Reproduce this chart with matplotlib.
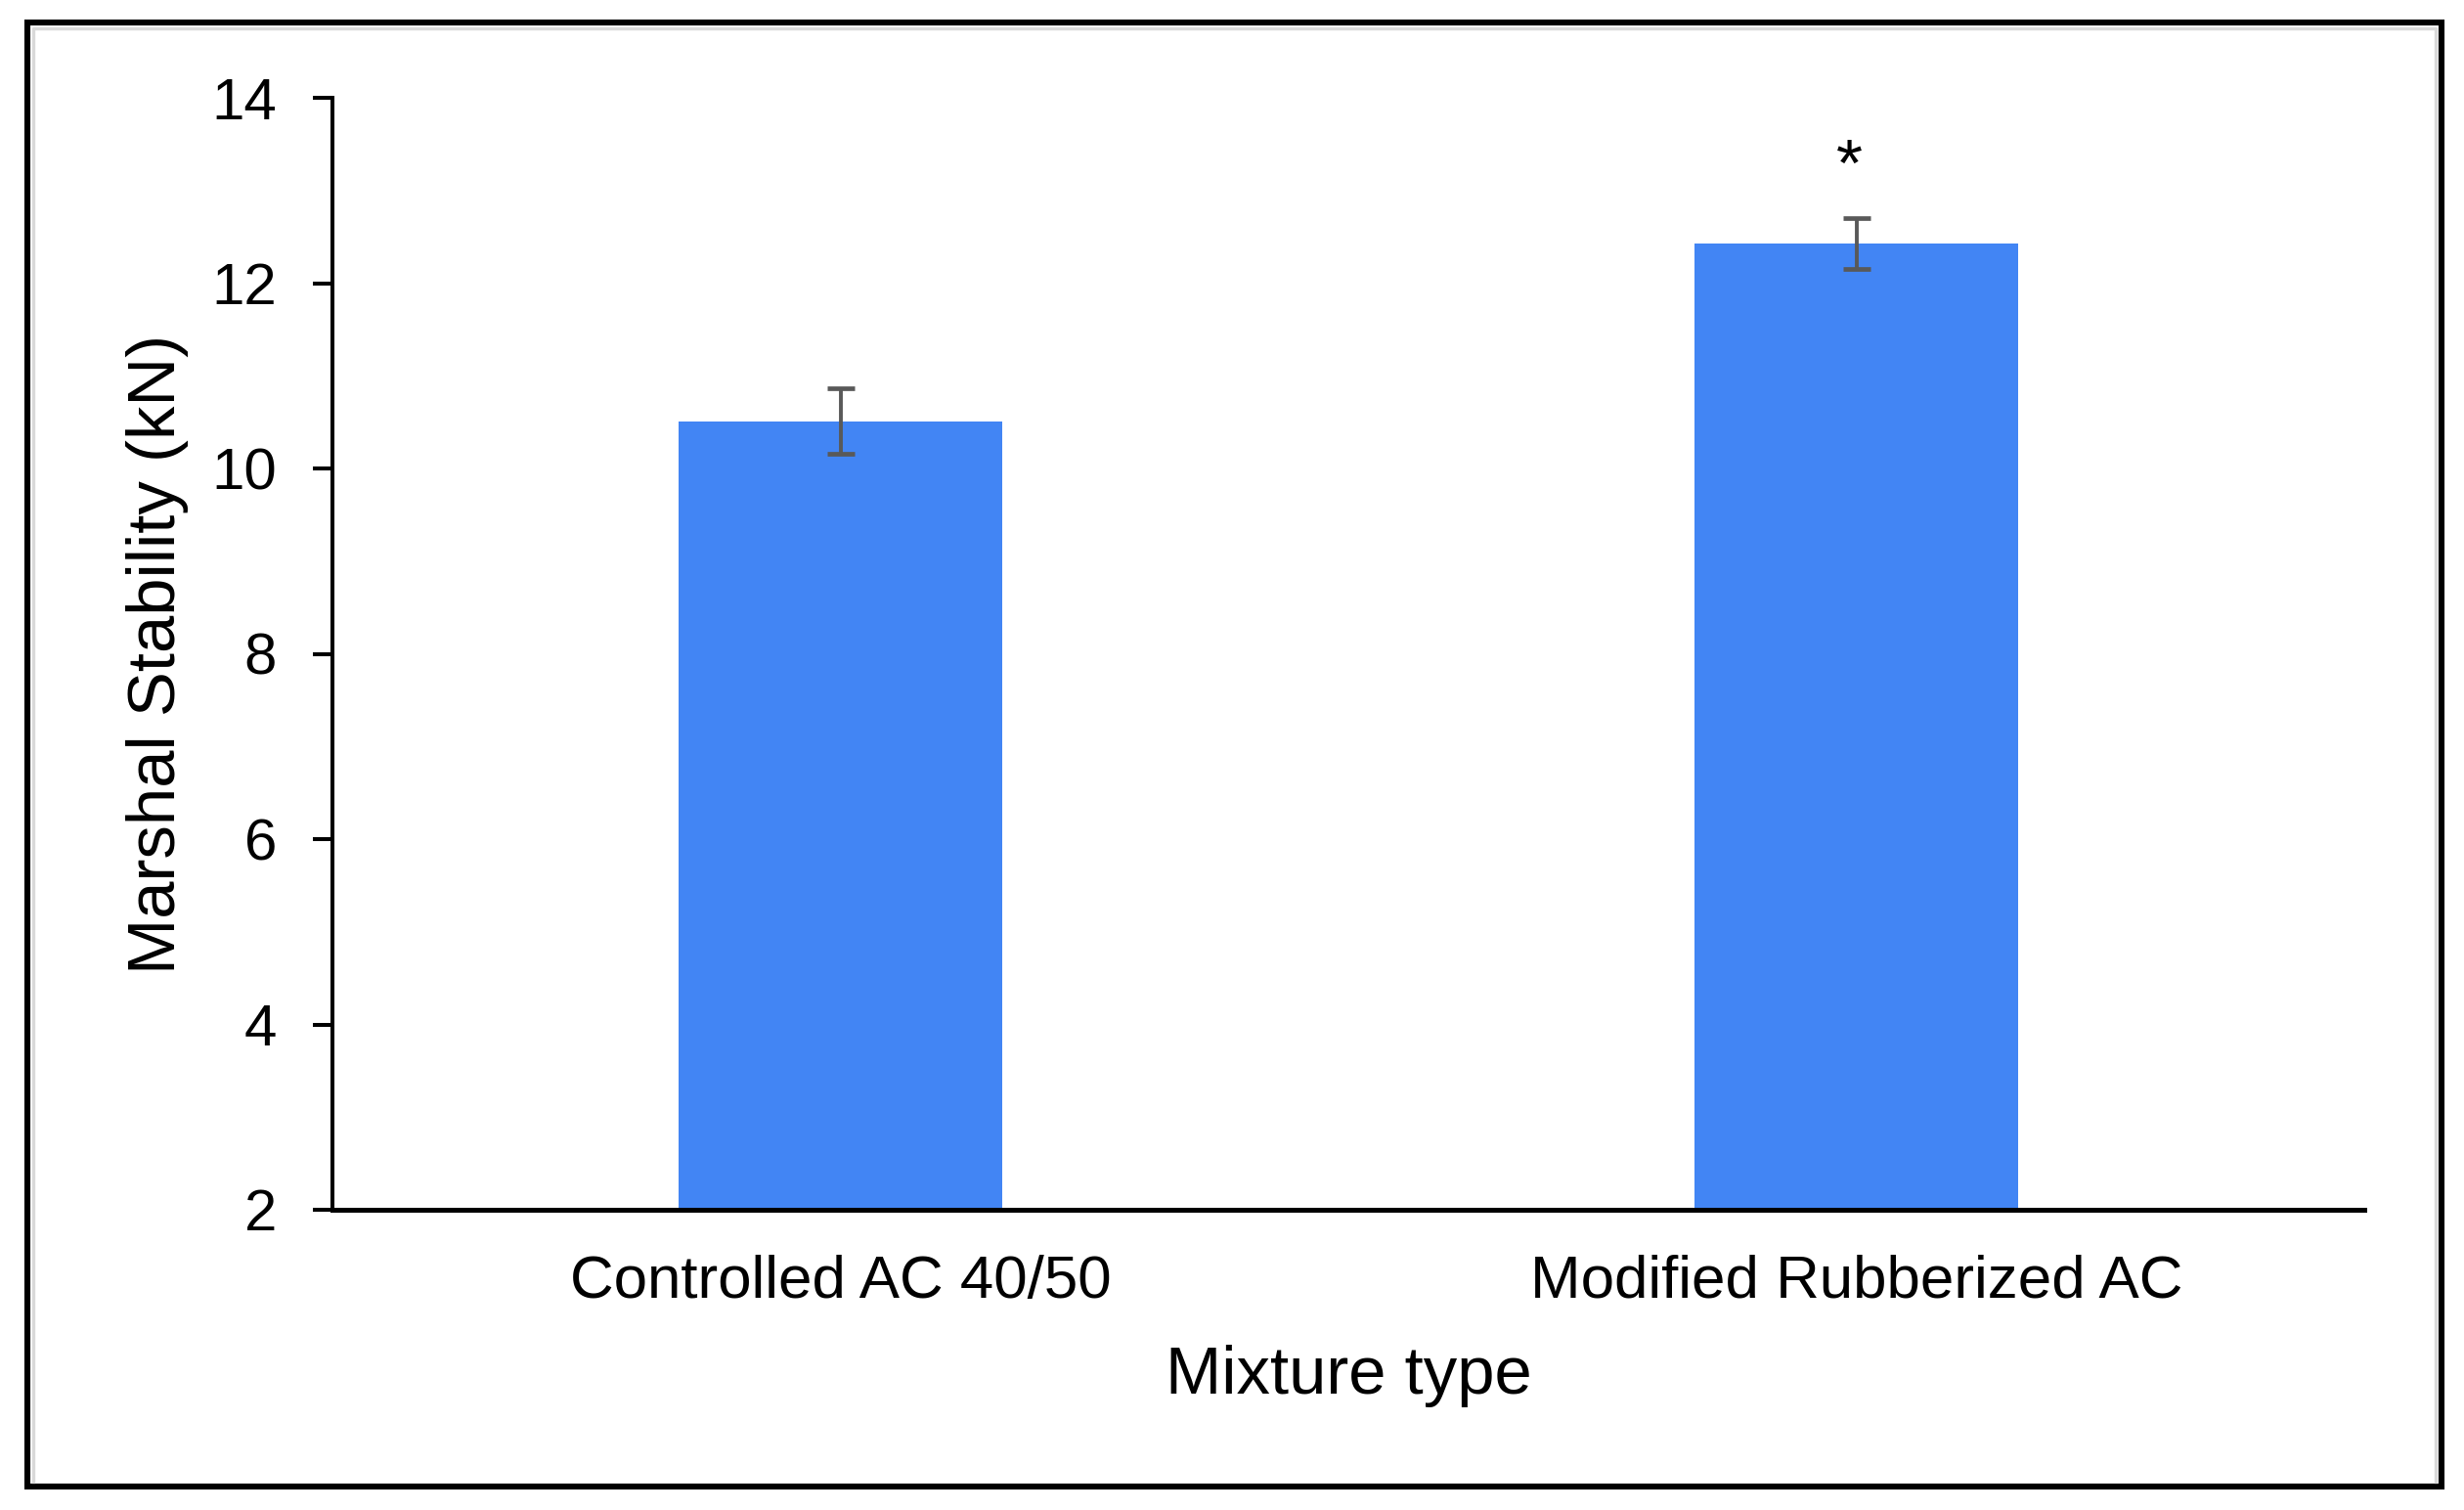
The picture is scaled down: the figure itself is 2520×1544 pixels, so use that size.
from matplotlib import pyplot as plt
from matplotlib.patches import Rectangle
from matplotlib.lines import Line2D
import numpy as np

################################################################################
# Marshal stability of the two mixtures
################################################################################

mixtures = ["Controlled AC 40/50", "Modified Rubberized AC"]
stability = [10.51, 12.43]   # kN
stab_err = [0.355, 0.275]
signif = ["", "*"]
yticks = [2, 4, 6, 8, 10, 12, 14]

plt.rcParams["font.family"] = ["Liberation Sans", "DejaVu Sans"]

W, H = 2520, 1544
fig = plt.figure(figsize=(W / 200, H / 200), dpi=200)
ax = fig.add_axes([340 / W, 1 - 1237 / H, (2418 - 340) / W, (1237 - 100) / H])

x = np.arange(len(mixtures))
ax.bar(x, stability, width=0.318, bottom=0, color="#4285F4", zorder=2,
       yerr=stab_err, ecolor="#595959",
       error_kw=dict(elinewidth=1.4, capsize=5.2, capthick=1.7, zorder=3))

for xi, m, e, s in zip(x, stability, stab_err, signif):
    if s:
        ax.text(xi - 0.007, 13.05, s, ha="center", va="baseline", fontsize=25)

ax.set_xlim(-0.5, 1.5)
ax.set_ylim(2, 14)
ax.set_yticks(yticks)
ax.set_xticks(x)
ax.set_xticklabels(mixtures)

for side in ["top", "right"]:
    ax.spines[side].set_visible(False)
ax.spines["left"].set_linewidth(1.45)
ax.spines["bottom"].set_linewidth(1.8)

ax.tick_params(axis="y", direction="out", length=7.2, width=1.45, pad=13.3, labelsize=21.6)
ax.tick_params(axis="x", length=0, pad=16.5, labelsize=22.3)

ax.set_xlabel("Mixture type", fontsize=24.8, va="center")
ax.xaxis.set_label_coords(0.5, (1237 - 1407) / (1237 - 100))
ax.set_ylabel("Marshal Stability (kN)", fontsize=24.8, va="center")
ax.yaxis.set_label_coords((161 - 340) / (2418 - 340), 0.5)

# frame round the whole picture
fig.patches.append(Rectangle((28 / W, 1 - 1520 / H), (2497 - 28) / W, (1520 - 23) / H,
                             fill=False, edgecolor="black", linewidth=2.2,
                             transform=fig.transFigure))
gx0, gx1, gy0, gy1 = 34 / W, 2491 / W, 1 - 1515 / H, 1 - 29 / H
fig.lines.append(Line2D([gx0, gx0, gx1, gx1], [gy0, gy1, gy1, gy0], color="#d9d9d9",
                        linewidth=1.2, transform=fig.transFigure))

plt.savefig("out.png", dpi=200)
